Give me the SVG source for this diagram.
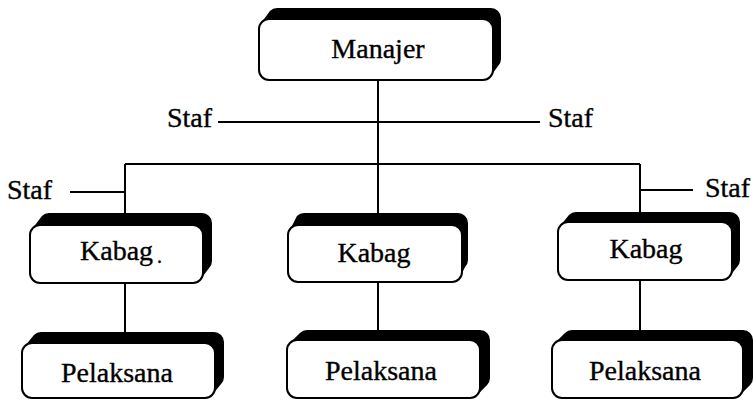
<svg xmlns="http://www.w3.org/2000/svg" width="753" height="401" viewBox="0 0 753 401">
  <style>
    .box { fill: #ffffff; stroke: #000000; stroke-width: 2; }
    .depth { fill: #000000; stroke: none; }
    .lbl { font-family: "Liberation Serif", "Times New Roman", serif; font-size: 28px; fill: #000000; stroke: #000000; stroke-width: 0.35; }
    .mid { text-anchor: middle; }
    .wire { fill: none; stroke: #000000; stroke-width: 2; }
  </style>
  <rect width="753" height="401" fill="#ffffff"/>

  <!-- connectors -->
  <g id="connectors" class="wire">
    <path d="M378 80 V164"/>
    <path d="M218 122 H540"/>
    <path d="M125 164 H640"/>
    <path d="M125 164 V214"/>
    <path d="M70 192 H125"/>
    <path d="M378 164 V214"/>
    <path d="M640 164 V213"/>
    <path d="M640 190 H693"/>
    <path d="M125 283 V333"/>
    <path d="M378 282 V331"/>
    <path d="M640 280 V331"/>
  </g>

  <!-- staff labels -->
  <g id="staf-labels" class="lbl">
    <text x="167" y="127">Staf</text>
    <text x="548" y="127">Staf</text>
    <text x="7" y="199">Staf</text>
    <text x="705" y="197">Staf</text>
  </g>

  <g id="manajer">
    <path class="depth" d="M261.93 21.93 L269.93 10.93 A10 10 0 0 1 277 8 L491 8 A10 10 0 0 1 501 18 L501 59 A10 10 0 0 1 498.07 66.07 L490.07 77.07 Z"/>
    <rect class="box" x="259" y="19" width="234" height="61" rx="10"/>
    <text class="lbl mid" x="378" y="58">Manajer</text>
  </g>

  <g id="kabag-kiri">
    <path class="depth" d="M32.93 227.93 L41.93 215.93 A10 10 0 0 1 49 213 L202 213 A10 10 0 0 1 212 223 L212 261 A10 10 0 0 1 209.07 268.07 L200.07 280.07 Z"/>
    <rect class="box" x="30" y="225" width="173" height="58" rx="10"/>
    <text class="lbl" x="80" y="260">Kabag<tspan dx="4" dy="3" font-size="20">.</tspan></text>
  </g>

  <g id="kabag-tengah">
    <path class="depth" d="M290.93 227.93 L296.93 215.93 A10 10 0 0 1 304 213 L458 213 A10 10 0 0 1 468 223 L468 260 A10 10 0 0 1 465.07 267.07 L459.07 279.07 Z"/>
    <rect class="box" x="288" y="225" width="174" height="57" rx="10"/>
    <text class="lbl mid" x="374" y="262">Kabag</text>
  </g>

  <g id="kabag-kanan">
    <path class="depth" d="M560.93 224.93 L568.93 214.93 A10 10 0 0 1 576 212 L730 212 A10 10 0 0 1 740 222 L740 260 A10 10 0 0 1 737.07 267.07 L729.07 277.07 Z"/>
    <rect class="box" x="558" y="222" width="174" height="58" rx="10"/>
    <text class="lbl mid" x="646" y="258">Kabag</text>
  </g>

  <g id="pelaksana-kiri">
    <path class="depth" d="M24.93 345.93 L33.93 334.93 A10 10 0 0 1 41 332 L214 332 A10 10 0 0 1 224 342 L224 377 A10 10 0 0 1 221.07 384.07 L212.07 395.07 Z"/>
    <rect class="box" x="22" y="343" width="193" height="55" rx="10"/>
    <text class="lbl mid" x="117" y="382">Pelaksana</text>
  </g>

  <g id="pelaksana-tengah">
    <path class="depth" d="M289.93 342.93 L299.93 332.93 A10 10 0 0 1 307 330 L480 330 A10 10 0 0 1 490 340 L490 378 A10 10 0 0 1 487.07 385.07 L477.07 395.07 Z"/>
    <rect class="box" x="287" y="340" width="193" height="58" rx="10"/>
    <text class="lbl mid" x="381" y="380">Pelaksana</text>
  </g>

  <g id="pelaksana-kanan">
    <path class="depth" d="M554.93 342.93 L564.93 332.93 A10 10 0 0 1 572 330 L743 330 A10 10 0 0 1 753 340 L753 378 A10 10 0 0 1 750.07 385.07 L740.07 395.07 Z"/>
    <rect class="box" x="552" y="340" width="191" height="58" rx="10"/>
    <text class="lbl mid" x="645" y="380">Pelaksana</text>
  </g>
</svg>
